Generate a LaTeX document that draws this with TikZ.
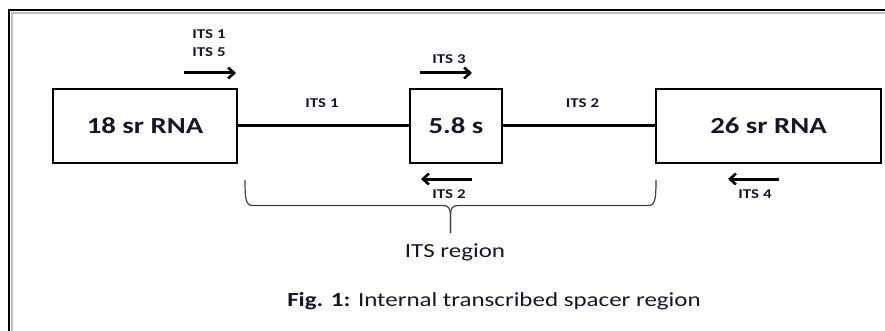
\documentclass[tikz,border=0pt]{standalone}
\usepackage{fontspec}
\setmainfont[FakeStretch=1.25]{Carlito}
\usetikzlibrary{arrows.meta}
\definecolor{ink}{RGB}{22,22,40}
\begin{document}
\begin{tikzpicture}[x=1pt,y=-1pt,
  region/.style={draw=black,line width=2.8pt,minimum height=74pt,inner sep=0pt,text=ink,font=\bfseries\fontsize{23}{27}\selectfont},
  spacer/.style={draw=black,line width=3pt},
  primer/.style={draw=black,line width=3pt,-{Straight Barb[length=6pt,width=11pt,line width=2.6pt]}},
  lbl/.style={inner sep=0pt,text=ink,font=\bfseries\fontsize{13.5}{15}\selectfont},
  brace/.style={draw=black!75,line width=1.2pt}]
\useasboundingbox (0,0) rectangle (885,331);
\fill[white] (0,0) rectangle (885,331);
% frame
\draw[black!25,line width=2pt] (12,331) -- (12,13) -- (885,13);
\draw[black,line width=2.5pt] (9,331) -- (9,10) -- (885,10);
% regions
\node[region,minimum width=184pt] (r18) at (145,126) {18 sr RNA};
\node[region,minimum width=92pt] (r58) at (456,126) {5.8 s};
\node[region,minimum width=225pt] (r26) at (768.5,126) {26 sr RNA};
\draw[spacer] (r18.east) -- (r58.west);
\draw[spacer] (r58.east) -- (r26.west);
% spacer labels
\node[lbl] (its1m) at (322,103) {ITS 1};
\node[lbl] (its2m) at (582.5,103) {ITS 2};
% primers
\node[lbl] (p1) at (209,34) {ITS 1};
\node[lbl] (p5) at (209,52) {ITS 5};
\coordinate (p15s) at (184,73);
\coordinate (p15e) at (236,73);
\draw[primer] (p15s) -- (p15e);
\node[lbl] (p3) at (449,59) {ITS 3};
\coordinate (p3s) at (420,73);
\coordinate (p3e) at (472,73);
\draw[primer] (p3s) -- (p3e);
\coordinate (p2s) at (472,179);
\coordinate (p2e) at (421,179);
\draw[primer] (p2s) -- (p2e);
\node[lbl] (p2) at (449,194) {ITS 2};
\coordinate (p4s) at (779,179);
\coordinate (p4e) at (728,179);
\draw[primer] (p4s) -- (p4e);
\node[lbl] (p4) at (755,194) {ITS 4};
% brace
\coordinate (bl) at (245,180);
\coordinate (br) at (656,180);
\coordinate (bt) at (450.5,233);
\draw[brace] (bl) .. controls (245,200) and (246,205.5) .. (253,205.5) -- (443,205.5)
  .. controls (449,205.5) and (450.5,209) .. (450.5,216) -- (bt);
\draw[brace] (bt) -- (450.5,216) .. controls (450.5,209) and (452,205.5) .. (458,205.5)
  -- (648,205.5) .. controls (655,205.5) and (656,200) .. (br);
\node[inner sep=0pt,text=ink,font=\fontsize{20}{24}\selectfont] (itsr) at (455,252) {ITS region};
\node[inner sep=0pt,text=ink,font=\fontsize{20}{24}\selectfont] (cap) at (494,301) {\textbf{Fig. 1:} Internal transcribed spacer region};
\end{tikzpicture}
\end{document}
